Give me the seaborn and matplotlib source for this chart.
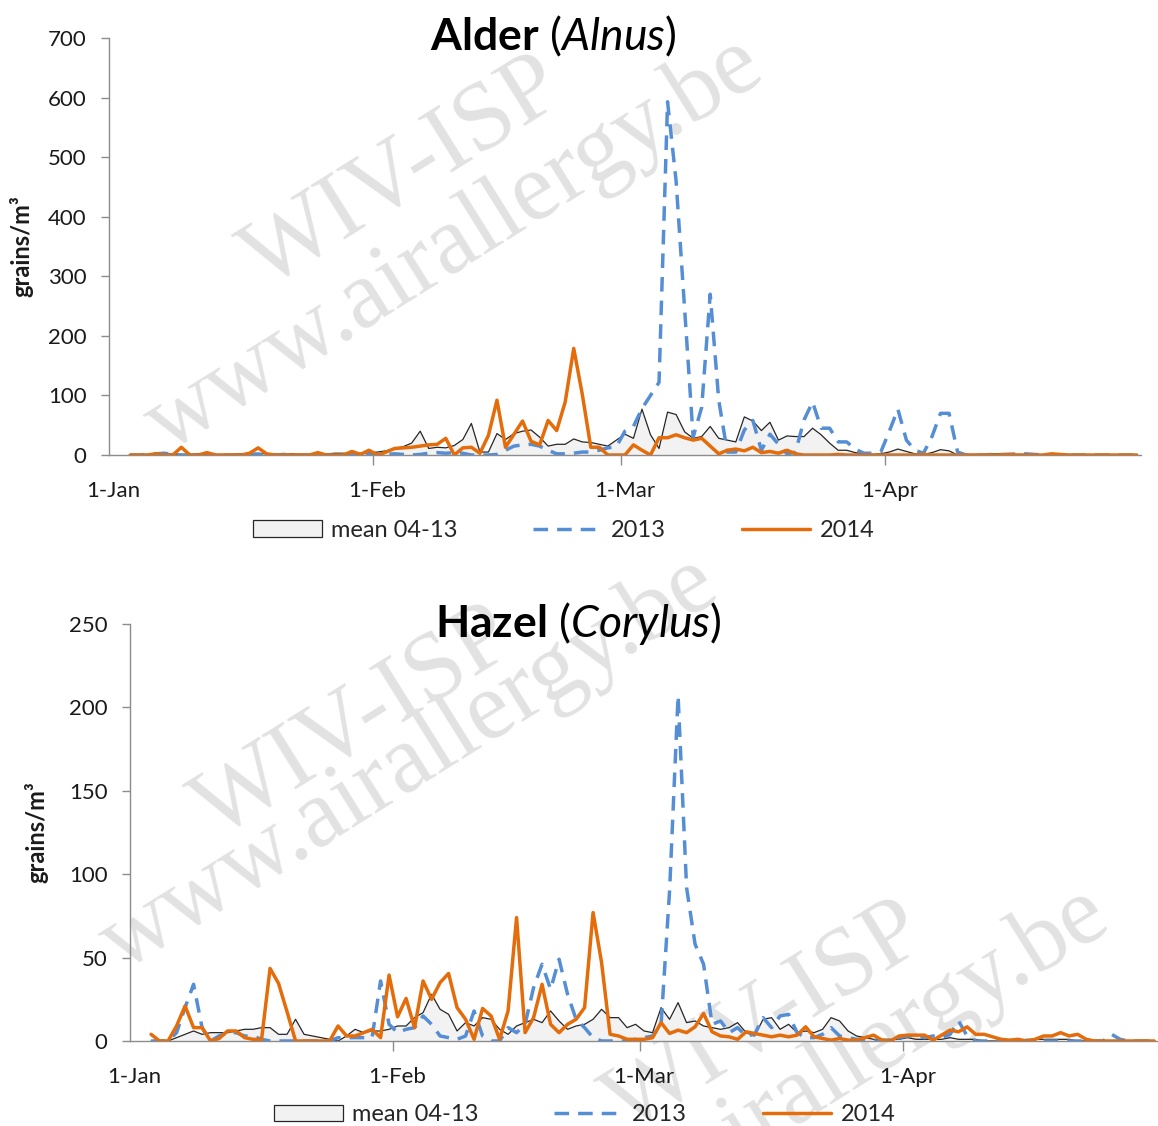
import numpy as np
import pandas as pd
import matplotlib
matplotlib.use("Agg")
import matplotlib.pyplot as plt
import seaborn as sns
from matplotlib.patches import Patch
from matplotlib.lines import Line2D

# daily categories 1 Jan .. 30 Apr (29 Feb included), data start on 3 Jan
n_days = 121
first_day = 2
month_starts = [0, 31, 60, 91]
month_labels = ['1-Jan', '1-Feb', '1-Mar', '1-Apr']
series_labels = ['mean 04-13', '2013', '2014']

# Alder (Alnus), grains/m3
alder_mean = [
    0, 0, 1, 1, 1, 2, 1, 1, 2, 2,
    1, 1, 1, 2, 2, 3, 2, 1, 1, 2,
    1, 1, 2, 2, 3, 3, 2, 3, 4, 5,
    7, 11, 14, 20, 40, 11, 13, 12, 16, 26,
    53, 5, 5, 36, 26, 36, 40, 42, 30, 15,
    18, 18, 27, 22, 21, 18, 15, 25, 35, 28,
    77, 34, 11, 72, 68, 39, 28, 31, 48, 28,
    25, 22, 64, 57, 41, 55, 25, 32, 31, 31,
    45, 34, 20, 8, 8, 4, 2, 1, 2, 5,
    10, 6, 2, 1, 4, 9, 7, 0, 1, 1,
    1, 2, 2, 1, 1, 1, 1, 0, 0, 1,
    1, 0, 0, 0, 0, 0, 0, 0, 0,
]
alder_2013 = [
    0, 0, 1, 2, 3, 1, 0, 0, 0, 0,
    1, 0, 0, 1, 2, 1, 0, 0, 1, 0,
    0, 0, 1, 0, 0, 0, 2, 3, 2, 1,
    1, 2, 1, 0, 1, 3, 4, 3, 4, 3,
    0, 0, 0, 1, 8, 15, 17, 18, 15, 8,
    2, 2, 3, 5, 5, 8, 12, 14, 40, 48,
    78, 100, 122, 593, 460, 245, 30, 80, 270, 92,
    5, 5, 42, 58, 8, 35, 18, 2, 5, 59,
    89, 45, 45, 22, 22, 10, 3, 3, 5, 40,
    77, 25, 8, 3, 31, 70, 70, 5, 0, 0,
    0, 1, 1, 1, 2, 2, 1, 0, 0, 0,
    0, 0, 0, 0, 0, 0, 0, 0, 0,
]
alder_2014 = [
    0, 0, 0, 2, 0, 0, 13, 0, 0, 4,
    0, 0, 0, 0, 3, 12, 2, 0, 0, 0,
    0, 0, 4, 0, 0, 0, 6, 1, 8, 0,
    5, 11, 12, 13, 15, 17, 18, 28, 0, 12,
    13, 3, 33, 92, 13, 35, 57, 23, 17, 58,
    41, 89, 179, 102, 13, 13, 0, 0, 0, 17,
    8, 0, 29, 29, 34, 29, 25, 28, 15, 2,
    8, 10, 7, 13, 4, 6, 3, 8, 2, 0,
    0, 0, 0, 1, 0, 0, 0, 0, 0, 0,
    0, 0, 0, 1, 0, 0, 0, 0, 0, 0,
    0, 0, 0, 1, 0, 0, 0, 0, 2, 1,
    0, 0, 0, 0, 0, 0, 0, 0, 0,
]

# Hazel (Corylus), grains/m3
hazel_mean = [
    0, 0, 0, 2, 4, 6, 4, 5, 5, 5,
    6, 7, 7, 8, 8, 4, 4, 13, 4, 3,
    2, 1, 0, 3, 7, 5, 6, 6, 7, 9,
    9, 14, 17, 28, 19, 16, 6, 11, 9, 14,
    13, 7, 4, 9, 11, 13, 11, 18, 12, 7,
    9, 10, 13, 19, 14, 14, 8, 10, 6, 5,
    20, 13, 23, 11, 12, 9, 8, 7, 8, 11,
    5, 3, 13, 14, 7, 10, 5, 6, 5, 7,
    14, 12, 6, 3, 2, 1, 1, 1, 1, 2,
    1, 1, 1, 1, 2, 1, 1, 1, 0, 0,
    0, 0, 0, 1, 1, 1, 1, 1, 1, 0,
    0, 0, 0, 0, 0, 0, 0, 0, 0,
]
hazel_2013 = [
    0, 0, 0, 5, 20, 34, 8, 0, 3, 5,
    5, 3, 3, 1, 0, 0, 0, 0, 0, 0,
    0, 0, 2, 2, 2, 2, 2, 36, 10, 5,
    7, 8, 15, 10, 3, 2, 1, 3, 18, 3,
    0, 0, 8, 5, 10, 32, 46, 31, 49, 28,
    13, 8, 2, 0, 0, 0, 0, 1, 2, 3,
    10, 90, 207, 92, 58, 46, 10, 12, 5, 8,
    3, 4, 14, 8, 15, 16, 5, 2, 2, 4,
    8, 3, 2, 1, 1, 0, 0, 0, 2, 3,
    3, 2, 3, 2, 4, 12, 3, 0, 0, 0,
    0, 0, 0, 0, 0, 0, 0, 0, 0, 0,
    0, 0, 0, 4, 1, 0, 0, 0, 0,
]
hazel_2014 = [
    4, 0, 0, 9, 21, 8, 8, 0, 1.5, 6,
    6, 2, 1, 1, 43.5, 34.5, 17.5, 0, 0, 0,
    0, 0, 9, 3, 3, 5, 7, 2, 39.5, 14.5,
    25.5, 8, 36, 25, 35, 40.5, 20, 13, 1, 19.5,
    15, 1, 18, 74, 5, 14, 34, 10, 5, 10,
    13, 20, 77, 47, 4, 3, 1, 1, 1, 2,
    11, 4.5, 6.5, 5, 8.5, 16.5, 5.5, 3, 2.5, 1,
    5.5, 4.5, 3.5, 2.5, 3.5, 2.5, 3.5, 8.5, 2.5, 1.5,
    0.5, 1.5, 0.5, 0.5, 2, 3.5, 0.5, 0, 3, 3.5,
    3.5, 3.5, 0.5, 3.5, 6.5, 5.5, 8.5, 4, 4, 2.5,
    1, 0.5, 1, 0, 1, 3, 3, 5, 3, 4,
    1, 0, 0, 0, 0, 0, 0, 0, 0,
]

days = np.arange(first_day, n_days) + 0.5

sns.set_theme(style='ticks')
plt.rcParams['font.family'] = ['Lato', 'DejaVu Sans']
plt.rcParams['mathtext.fontset'] = 'custom'
plt.rcParams['mathtext.rm'] = 'Lato'
plt.rcParams['mathtext.it'] = 'Lato:italic'
plt.rcParams['mathtext.bf'] = 'Lato:bold'

BLUE = '#558ED5'
ORANGE = '#E46C0A'
GREY = '#8C8C8C'
DASH = (0, (4.2, 2.6))


def draw_panel(ax, mean, y2013, y2014, top, step, label_x):
    df = pd.DataFrame({'day': days, 'mean': mean, '2013': y2013, '2014': y2014})
    ax.set_facecolor('none')
    ax.fill_between(df['day'], 0, df['mean'], color='#F2F2F2', linewidth=0, zorder=1)
    sns.lineplot(data=df, x='day', y='mean', color='#262626', linewidth=0.9, ax=ax, zorder=2)
    sns.lineplot(data=df, x='day', y='2013', color=BLUE, linewidth=2.5,
                 linestyle=DASH, ax=ax, zorder=3)
    sns.lineplot(data=df, x='day', y='2014', color=ORANGE, linewidth=2.5, ax=ax, zorder=4)

    ax.set_xlim(0, n_days)
    ax.set_ylim(0, top)
    ax.set_yticks(np.arange(0, top + 1, step))
    ax.set_xticks([m + 0.5 for m in month_starts])
    ax.set_xticklabels(month_labels)
    ax.set_xticks(month_starts[1:], minor=True)
    ax.tick_params(axis='x', which='major', length=0, pad=19, labelsize=16, labelcolor='#1a1a1a')
    ax.tick_params(axis='x', which='minor', length=7, width=1, color=GREY, direction='out')
    ax.tick_params(axis='y', length=6, width=1, color=GREY, pad=10, labelsize=16,
                   labelcolor='#1a1a1a', direction='out')
    for side in ['top', 'right']:
        ax.spines[side].set_visible(False)
    for side in ['left', 'bottom']:
        ax.spines[side].set_color(GREY)
        ax.spines[side].set_linewidth(1)
    ax.set_xlabel('')
    ax.set_ylabel('grains/m³', fontsize=17, fontweight='bold', color='#1a1a1a')
    ax.yaxis.set_label_coords(label_x, 0.5)


fig = plt.figure(figsize=(11.58, 11.26), dpi=100)
fig.patch.set_facecolor('white')

# watermark behind the plots
wm = dict(family='Liberation Serif', color='#E2E2E2', fontsize=70, rotation=32,
          ha='center', va='center', rotation_mode='anchor', zorder=-5)
fig.text(0.350, 0.845, 'WIV-ISP', **wm)
fig.text(0.393, 0.782, 'www.airallergy.be', **wm)
fig.text(0.307, 0.356, 'WIV-ISP', **wm)
fig.text(0.354, 0.321, 'www.airallergy.be', **wm)
fig.text(0.662, 0.094, 'WIV-ISP', **wm)
fig.text(0.692, 0.027, 'www.airallergy.be', **wm)

ax1 = fig.add_axes([0.0940, 0.5959, 0.8913, 0.3703])
ax2 = fig.add_axes([0.1121, 0.0755, 0.8882, 0.3703])

draw_panel(ax1, alder_mean, alder_2013, alder_2014, 700, 100, -0.073)
draw_panel(ax2, hazel_mean, hazel_2013, hazel_2014, 250, 50, -0.079)

fig.text(0.478, 0.9556, r'$\mathbf{Alder}\ \mathrm{(}\mathit{Alnus}\mathrm{)}$',
         fontsize=32, ha='center', va='baseline', color='black')
fig.text(0.499, 0.4343, r'$\mathbf{Hazel}\ \mathrm{(}\mathit{Corylus}\mathrm{)}$',
         fontsize=32, ha='center', va='baseline', color='black')

handles = [
    Patch(facecolor='#F2F2F2', edgecolor='#262626', linewidth=0.9),
    Line2D([], [], color=BLUE, linewidth=2.5, linestyle=DASH),
    Line2D([], [], color=ORANGE, linewidth=2.5),
]
leg_kw = dict(loc='center', ncol=3, frameon=False, fontsize=17, handlelength=2.9,
              handletextpad=0.4, columnspacing=3.2)
fig.legend(handles, series_labels, bbox_to_anchor=(0.487, 0.529), **leg_kw)
fig.legend(handles, series_labels, bbox_to_anchor=(0.505, 0.0098), **leg_kw)

fig.savefig('out.png', dpi=100, facecolor='white')
